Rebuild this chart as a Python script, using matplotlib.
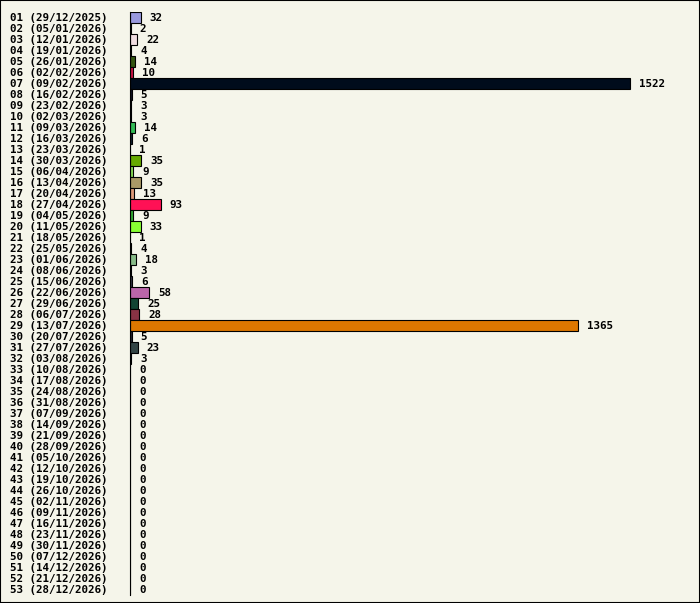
import matplotlib
matplotlib.use("Agg")
import matplotlib.pyplot as plt
from matplotlib.patches import Rectangle

weeks = [f"{i:02d}" for i in range(1, 54)]
dates = ["29/12/2025", "05/01/2026", "12/01/2026", "19/01/2026", "26/01/2026",
         "02/02/2026", "09/02/2026", "16/02/2026", "23/02/2026", "02/03/2026",
         "09/03/2026", "16/03/2026", "23/03/2026", "30/03/2026", "06/04/2026",
         "13/04/2026", "20/04/2026", "27/04/2026", "04/05/2026", "11/05/2026",
         "18/05/2026", "25/05/2026", "01/06/2026", "08/06/2026", "15/06/2026",
         "22/06/2026", "29/06/2026", "06/07/2026", "13/07/2026", "20/07/2026",
         "27/07/2026", "03/08/2026", "10/08/2026", "17/08/2026", "24/08/2026",
         "31/08/2026", "07/09/2026", "14/09/2026", "21/09/2026", "28/09/2026",
         "05/10/2026", "12/10/2026", "19/10/2026", "26/10/2026", "02/11/2026",
         "09/11/2026", "16/11/2026", "23/11/2026", "30/11/2026", "07/12/2026",
         "14/12/2026", "21/12/2026", "28/12/2026"]
values = [32, 2, 22, 4, 14, 10, 1522, 5, 3, 3,
          14, 6, 1, 35, 9, 35, 13, 93, 9, 33,
          1, 4, 18, 3, 6, 58, 25, 28, 1365, 5,
          23, 3] + [0] * 21
colors = ["#9999dd", "#ddccaa", "#f0dde0", "#223322", "#335511",
          "#cc1144", "#000c1c", "#111122", "#aa8866", "#446688",
          "#33bb55", "#112233", "#775533", "#66aa00", "#88dd55",
          "#aa9966", "#dd9977", "#ff1155", "#33aa33", "#88ff33",
          "#557755", "#223311", "#88bb88", "#555566", "#333344",
          "#bb66aa", "#114433", "#883344", "#dd7700", "#222233",
          "#334444", "#445544"] + ["#888888"] * 21

labels = [f"{w} ({d})" for w, d in zip(weeks, dates)]

W, H = 700, 603
bg = "#f5f5ea"
fig = plt.figure(figsize=(W / 100, H / 100), dpi=100, facecolor=bg)
fig.patches.append(Rectangle((0, 0), 1, 1, transform=fig.transFigure,
                             fill=False, edgecolor="black", linewidth=1.5))

left, right = 130, 690
top, bottom = 11.5, 594.5
ax = fig.add_axes([left / W, 1 - bottom / H, (right - left) / W, (bottom - top) / H])
ax.set_facecolor(bg)

font = dict(family="DejaVu Sans Mono", weight="bold", size=7.8)

ypos = list(range(len(values)))
ax.barh(ypos, values, height=1.0, color=colors, edgecolor="black", linewidth=0.8)
xmax = 1522 * (right - left) / (630 - left)
ax.set_xlim(0, xmax)
ax.set_ylim(len(values) - 0.5, -0.5)

for y, v in zip(ypos, values):
    ax.annotate(str(v), (v, y), xytext=(6.5, 0), textcoords="offset points",
                ha="left", va="center_baseline", **font)

ax.set_yticks(ypos)
ax.set_yticklabels(labels, ha="left", va="center_baseline", **font)
ax.tick_params(axis="y", length=0, pad=(left - 10) * 0.72)
ax.set_xticks([])
for s in ["top", "right", "bottom"]:
    ax.spines[s].set_visible(False)
ax.spines["left"].set_linewidth(0.8)
ax.spines["left"].set_color("black")

fig.savefig("out.png", dpi=100, facecolor=bg)
